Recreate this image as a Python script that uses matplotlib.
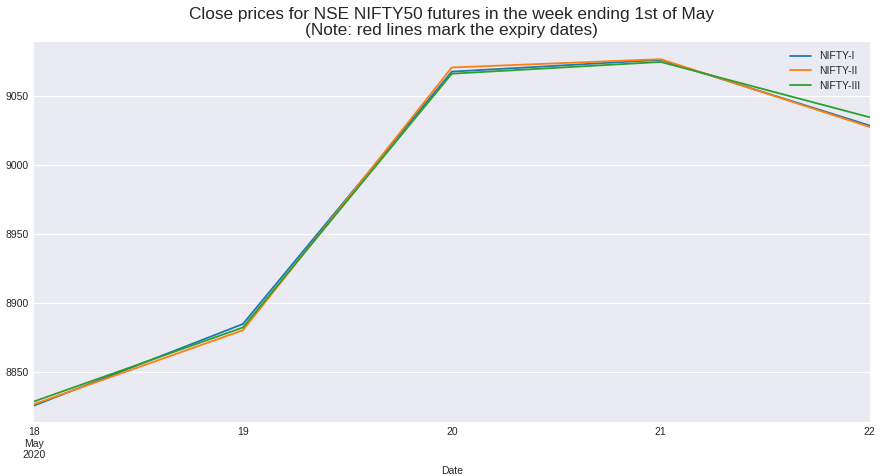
import pandas as pd
import matplotlib.pyplot as plt

plt.style.use('seaborn-v0_8-darkgrid')
plt.rcParams['font.family'] = ['Liberation Sans', 'DejaVu Sans']

dates = pd.to_datetime(['2020-05-18', '2020-05-19', '2020-05-20', '2020-05-21', '2020-05-22'])
nifty_1 = [8826, 8885, 9067.5, 9076, 9028.5]
nifty_2 = [8827, 8880.5, 9070.5, 9076.5, 9027.5]
nifty_3 = [8829, 8882.5, 9066, 9074.5, 9034.5]
tick_labels = ['18\nMay\n2020', '19', '20', '21', '22']

fig, ax = plt.subplots(figsize=(8.82, 4.76), dpi=100)
fig.subplots_adjust(left=0.0385, right=0.986, top=0.912, bottom=0.113)

ax.plot(dates, nifty_1, label='NIFTY-I', color='#1f77b4', linewidth=1.3)
ax.plot(dates, nifty_2, label='NIFTY-II', color='#ff7f0e', linewidth=1.3)
ax.plot(dates, nifty_3, label='NIFTY-III', color='#2ca02c', linewidth=1.3)

ax.set_xlim(dates[0], dates[-1])
ax.set_ylim(8814, 9089)
ax.set_xticks(dates)
ax.set_xticklabels(tick_labels)
ax.set_yticks([8850, 8900, 8950, 9000, 9050])
ax.tick_params(labelsize=7.5, colors='#262626')
ax.grid(axis='x', visible=False)

ax.set_xlabel('Date', fontsize=7.5)
ax.set_title('Close prices for NSE NIFTY50 futures in the week ending 1st of May\n'
             '(Note: red lines mark the expiry dates)', fontsize=12.4, linespacing=1.1, pad=5)
ax.legend(loc='upper right', fontsize=7.5, frameon=False, labelspacing=0.45)

fig.savefig('out.png', dpi=100)
